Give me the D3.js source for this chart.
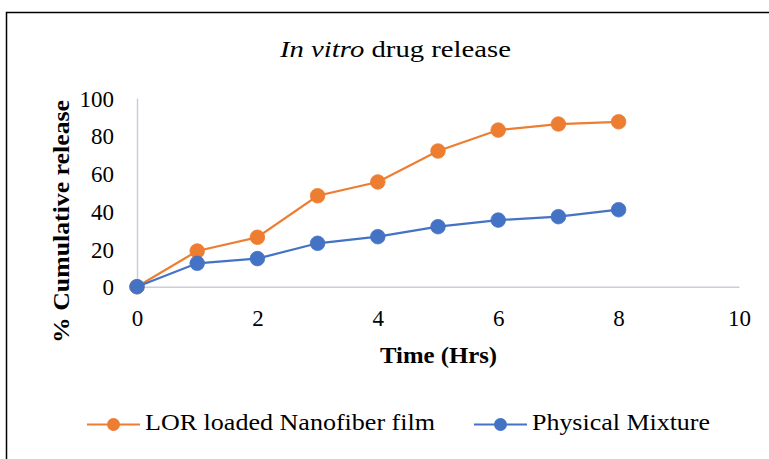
<!DOCTYPE html>
<html>
<head>
<meta charset="utf-8">
<script src="https://cdn.jsdelivr.net/npm/d3@7"></script>
<style>
  html, body { margin: 0; padding: 0; background: #fff; }
  svg { display: block; }
</style>
</head>
<body>
<svg id="chart" width="769" height="459"></svg>
<script>
const timeHrs = [0, 1, 2, 3, 4, 5, 6, 7, 8];
const nanofiberRelease = [0, 18.9, 26.2, 48.2, 55.5, 71.9, 83.0, 86.2, 87.4];
const physicalMixRelease = [0, 12.4, 14.9, 23.0, 26.5, 31.8, 35.3, 37.1, 40.8];
const seriesNames = ["LOR loaded Nanofiber film", "Physical Mixture"];
const seriesColors = ["#ED7D31", "#4472C4"];
const xTicks = [0, 2, 4, 6, 8, 10];
const yTicks = [0, 20, 40, 60, 80, 100];

const FONT = '"Liberation Serif", "Times New Roman", serif';
const svg = d3.select("#chart");

// outer frame (cropped)
svg.append("rect")
  .attr("x", 6.5).attr("y", 12.5).attr("width", 820).attr("height", 520)
  .attr("fill", "none").attr("stroke", "#000").attr("stroke-width", 1.5);

const x = d3.scaleLinear().domain([0, 10]).range([137, 739]);
const y = d3.scaleLinear().domain([0, 100]).range([286.7, 98]);

// axes
const xAxis = svg.append("g").attr("transform", `translate(0,${y(0)})`)
  .call(d3.axisBottom(x).tickValues(xTicks).tickSize(0).tickPadding(0).tickFormat(d3.format("d")));
xAxis.select(".domain").attr("stroke", "#c9ced8").attr("stroke-width", 1.5);
xAxis.selectAll(".tick text")
  .attr("y", 39).attr("dy", null).attr("fill", "#000")
  .style("font-size", "23px").style("font-family", FONT);

const yAxis = svg.append("g").attr("transform", `translate(${x(0)},0)`)
  .call(d3.axisLeft(y).tickValues(yTicks).tickSize(0).tickPadding(0).tickFormat(d3.format("d")));
yAxis.select(".domain").attr("stroke", "#c9ced8").attr("stroke-width", 1.5);
yAxis.selectAll(".tick text")
  .attr("x", -23).attr("dy", "0.35em").attr("fill", "#000")
  .style("font-size", "23px").style("font-family", FONT);
svg.selectAll(".tick line").remove();

// series
const series = [nanofiberRelease, physicalMixRelease];
const line = d3.line().x((d, i) => x(timeHrs[i])).y(d => y(d));
series.forEach((vals, si) => {
  const g = svg.append("g");
  g.append("path").datum(vals)
    .attr("d", line).attr("fill", "none")
    .attr("stroke", seriesColors[si]).attr("stroke-width", 2.2);
  g.selectAll("circle").data(vals).enter().append("circle")
    .attr("cx", (d, i) => x(timeHrs[i])).attr("cy", d => y(d))
    .attr("r", 7.3).attr("fill", seriesColors[si])
    .attr("stroke", seriesColors[si]).attr("stroke-width", 0.8);
});

// title
const title = svg.append("text")
  .attr("x", 395.5).attr("y", 57).attr("text-anchor", "middle")
  .attr("textLength", 231).attr("lengthAdjust", "spacingAndGlyphs")
  .style("font-family", FONT).style("font-size", "24px");
title.append("tspan").style("font-style", "italic").text("In vitro");
title.append("tspan").text(" drug release");

// axis titles
svg.append("text")
  .attr("x", 438.5).attr("y", 363).attr("text-anchor", "middle")
  .attr("textLength", 117).attr("lengthAdjust", "spacingAndGlyphs")
  .style("font-family", FONT).style("font-size", "23px").style("font-weight", "bold")
  .text("Time (Hrs)");

svg.append("text")
  .attr("transform", "translate(69,221.5) rotate(-90)")
  .attr("text-anchor", "middle")
  .attr("textLength", 243).attr("lengthAdjust", "spacingAndGlyphs")
  .style("font-family", FONT).style("font-size", "24px").style("font-weight", "bold")
  .text("% Cumulative release");

// legend
const legendItems = [
  { x0: 87, x1: 140, tx: 145, tw: 290 },
  { x0: 474, x1: 527, tx: 532, tw: 178 }
];
const ly = 424.5;
legendItems.forEach((it, i) => {
  svg.append("line").attr("x1", it.x0).attr("x2", it.x1).attr("y1", ly).attr("y2", ly)
    .attr("stroke", seriesColors[i]).attr("stroke-width", 2.2);
  svg.append("circle").attr("cx", (it.x0 + it.x1) / 2).attr("cy", ly).attr("r", 6.5)
    .attr("fill", seriesColors[i]);
  svg.append("text").attr("x", it.tx).attr("y", 430)
    .attr("textLength", it.tw).attr("lengthAdjust", "spacingAndGlyphs")
    .style("font-family", FONT).style("font-size", "24px").text(seriesNames[i]);
});
</script>
</body>
</html>
